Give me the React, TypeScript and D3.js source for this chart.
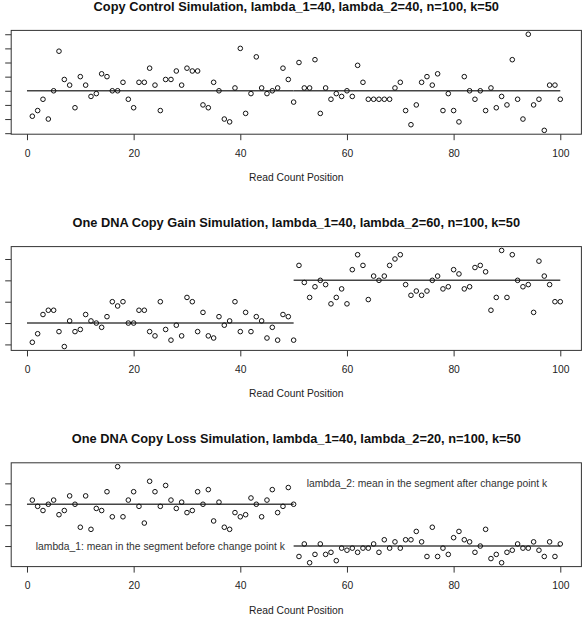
import React, { useEffect, useRef } from "react";
import * as d3 from "d3";

// Simulated read counts at positions 1..100, one array per scenario
const controlCounts = [
  31, 33, 37, 30, 40, 54, 44, 42, 34, 45, 42, 38, 39, 46, 45, 40, 40, 43, 37, 34,
  43, 43, 48, 42, 33, 44, 44, 47, 42, 48, 47, 47, 35, 34, 43, 40, 30, 29, 41, 55,
  32, 39, 52, 41, 39, 40, 41, 48, 44, 36, 50, 41, 41, 51, 32, 41, 37, 39, 38, 40,
  38, 49, 43, 37, 37, 37, 37, 37, 41, 43, 33, 28, 35, 43, 45, 42, 46, 33, 39, 33,
  29, 45, 40, 37, 40, 33, 41, 34, 38, 35, 51, 37, 30, 60, 35, 37, 26, 42, 42, 37,
];

const gainCounts = [
  31, 35, 44, 46, 46, 36, 29, 41, 36, 37, 44, 41, 40, 38, 43, 50, 48, 50, 40, 40,
  46, 46, 36, 34, 50, 37, 32, 39, 34, 52, 50, 36, 45, 34, 33, 43, 39, 41, 50, 36,
  45, 36, 43, 41, 33, 38, 32, 44, 43, 32, 67, 59, 52, 57, 60, 58, 49, 52, 56, 49,
  65, 72, 67, 51, 62, 60, 62, 67, 70, 72, 58, 53, 55, 53, 55, 60, 62, 56, 57, 65,
  63, 56, 57, 66, 67, 64, 46, 52, 74, 52, 72, 60, 57, 58, 45, 69, 62, 58, 50, 50,
];

const lossCounts = [
  42, 39, 37, 40, 42, 35, 37, 44, 40, 29, 44, 28, 38, 37, 46, 34, 58, 34, 42, 46,
  39, 31, 51, 46, 39, 49, 42, 38, 41, 36, 37, 46, 40, 47, 32, 41, 29, 28, 36, 34,
  35, 43, 40, 34, 42, 47, 36, 39, 48, 40, 15, 21, 12, 16, 21, 16, 17, 13, 19, 18,
  19, 17, 19, 19, 21, 17, 23, 19, 22, 19, 23, 23, 27, 22, 15, 29, 15, 19, 16, 24,
  27, 23, 22, 17, 20, 28, 14, 16, 12, 17, 18, 21, 19, 19, 22, 18, 15, 22, 15, 21,
];

const titles = [
  "Copy Control Simulation, lambda_1=40, lambda_2=40, n=100, k=50",
  "One DNA Copy Gain Simulation, lambda_1=40, lambda_2=60, n=100, k=50",
  "One DNA Copy Loss Simulation, lambda_1=40, lambda_2=20, n=100, k=50",
];
const lambda1 = [40, 40, 40];
const lambda2 = [40, 60, 20];
const changePoint = 50;
const seriesLength = 100;
const yTickCounts = [7, 5, 5];
const xTicks = [0, 20, 40, 60, 80, 100];
const xLabel = "Read Count Position";

// notes placed on the loss panel, in data coordinates
const notes = [
  { x: 25, y: 20, text: "lambda_1: mean in the segment before change point k" },
  { x: 75, y: 50, text: "lambda_2: mean in the segment after change point k" },
];

const W = 588;
const H = 624;
const FONT = "'Liberation Sans', Arial, Helvetica, sans-serif";

export default function App() {
  const svgRef = useRef<SVGSVGElement>(null);

  useEffect(() => {
    const svg = d3.select(svgRef.current);
    svg.selectAll("*").remove();

    const allCounts = [controlCounts, gainCounts, lossCounts];
    const plotLeft = 11.2;
    const plotRight = 581.4;
    const plotH = 103.8;
    const firstTop = 30.4;
    const panelStep = 216.2;

    // R-style axis range: data range widened by 4% on each side
    const padded = (lo: number, hi: number): [number, number] => {
      const r = hi - lo;
      return [lo - 0.04 * r, hi + 0.04 * r];
    };

    const x = d3
      .scaleLinear()
      .domain(padded(1, seriesLength))
      .range([plotLeft, plotRight]);

    allCounts.forEach((counts, p) => {
      const top = firstTop + p * panelStep;
      const bottom = top + plotH;
      const data = counts.map((v, i) => ({ pos: i + 1, v }));
      const [lo, hi] = d3.extent(counts) as [number, number];

      const y = d3.scaleLinear().domain(padded(lo, hi)).range([bottom, top]);

      const g = svg.append("g");

      g.append("text")
        .attr("x", (plotLeft + plotRight) / 2)
        .attr("y", top - 19.4)
        .attr("text-anchor", "middle")
        .attr("font-family", FONT)
        .attr("font-size", 12.8)
        .attr("font-weight", "bold")
        .attr("fill", "#111")
        .text(titles[p]);

      // plot frame
      g.append("rect")
        .attr("x", plotLeft)
        .attr("y", top)
        .attr("width", plotRight - plotLeft)
        .attr("height", plotH)
        .attr("fill", "none")
        .attr("stroke", "#333")
        .attr("stroke-width", 1);

      // x axis
      const xAxis = g
        .append("g")
        .attr("transform", `translate(0,${bottom})`)
        .call(d3.axisBottom(x).tickValues(xTicks).tickSize(6).tickPadding(9));
      xAxis.select(".domain").remove();
      xAxis.selectAll("line").attr("stroke", "#333");
      xAxis
        .selectAll("text")
        .attr("font-family", FONT)
        .attr("font-size", 10.3)
        .attr("fill", "#222");

      g.append("text")
        .attr("x", (plotLeft + plotRight) / 2)
        .attr("y", bottom + 47)
        .attr("text-anchor", "middle")
        .attr("font-family", FONT)
        .attr("font-size", 10.3)
        .attr("fill", "#222")
        .text(xLabel);

      // y axis ticks only, labels fall outside the page
      const yAxis = g
        .append("g")
        .attr("transform", `translate(${plotLeft},0)`)
        .call(d3.axisLeft(y).ticks(yTickCounts[p]).tickSize(6).tickFormat(() => ""));
      yAxis.select(".domain").remove();
      yAxis.selectAll("line").attr("stroke", "#333");

      // segment means
      const segments = [
        { x0: 0, x1: changePoint, v: lambda1[p] },
        { x0: changePoint, x1: seriesLength, v: lambda2[p] },
      ];
      g.selectAll("line.mean")
        .data(segments)
        .join("line")
        .attr("class", "mean")
        .attr("x1", (d) => x(d.x0))
        .attr("x2", (d) => x(d.x1))
        .attr("y1", (d) => y(d.v))
        .attr("y2", (d) => y(d.v))
        .attr("stroke", "#444")
        .attr("stroke-width", 1.5);

      g.selectAll("circle")
        .data(data)
        .join("circle")
        .attr("cx", (d) => x(d.pos))
        .attr("cy", (d) => y(d.v))
        .attr("r", 2.3)
        .attr("fill", "none")
        .attr("stroke", "#111")
        .attr("stroke-width", 1);

      if (p === 2) {
        g.selectAll("text.note")
          .data(notes)
          .join("text")
          .attr("class", "note")
          .attr("x", (d) => x(d.x))
          .attr("y", (d) => y(d.y))
          .attr("dy", "0.35em")
          .attr("text-anchor", "middle")
          .attr("font-family", FONT)
          .attr("font-size", 10.3)
          .attr("fill", "#333")
          .text((d) => d.text);
      }
    });
  }, []);

  return (
    <svg
      ref={svgRef}
      width={W}
      height={H}
      style={{ position: "absolute", left: 0, top: 0, background: "#fff" }}
    ></svg>
  );
}
